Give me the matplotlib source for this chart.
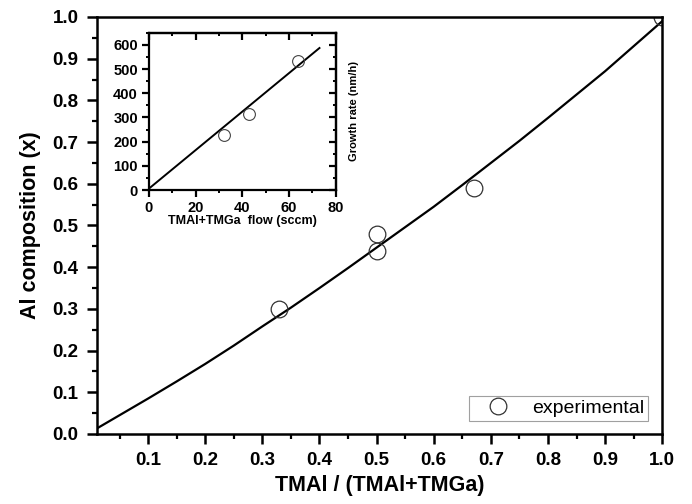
import matplotlib
matplotlib.use("Agg")
import matplotlib.pyplot as plt
from matplotlib.ticker import MultipleLocator, FixedLocator

plt.rcParams["font.family"] = ["Liberation Sans", "DejaVu Sans"]

# main panel: measured points and fitted curve
exp_x = [0.33, 0.5, 0.5, 0.67, 1.0]
exp_y = [0.30, 0.48, 0.44, 0.59, 1.0]
fit_x = [0.01, 0.05, 0.1, 0.15, 0.2, 0.25, 0.3, 0.35, 0.4, 0.45, 0.5,
         0.55, 0.6, 0.65, 0.7, 0.75, 0.8, 0.85, 0.9, 0.95, 1.0]
fit_y = [0.013, 0.045, 0.085, 0.126, 0.168, 0.212, 0.258, 0.303, 0.35,
         0.398, 0.447, 0.496, 0.545, 0.597, 0.65, 0.703, 0.758, 0.814,
         0.87, 0.93, 0.99]
x_ticks = [0.1, 0.2, 0.3, 0.4, 0.5, 0.6, 0.7, 0.8, 0.9, 1.0]
y_ticks = [0.0, 0.1, 0.2, 0.3, 0.4, 0.5, 0.6, 0.7, 0.8, 0.9, 1.0]

# inset: growth rate vs total flow
flow = [32, 43, 64]
rate = [228, 314, 532]
flow_fit = [0, 73]
rate_fit = [6, 587]
flow_ticks = [0, 20, 40, 60, 80]
rate_ticks = [0, 100, 200, 300, 400, 500, 600]

fig = plt.figure(figsize=(6.92, 5.04), dpi=100)
ax = fig.add_axes([0.1397, 0.1389, 0.8173, 0.8274])

ax.plot(fit_x, fit_y, color="black", lw=1.6)
ax.plot(exp_x, exp_y, "o", ms=12, mfc="none", mec="#333333", mew=0.9,
        label="experimental")

ax.set_xlim(0.01, 1.0)
ax.set_ylim(0.0, 1.0)
ax.xaxis.set_major_locator(FixedLocator(x_ticks))
ax.yaxis.set_major_locator(FixedLocator(y_ticks))
ax.xaxis.set_minor_locator(MultipleLocator(0.05))
ax.yaxis.set_minor_locator(MultipleLocator(0.05))
ax.set_xticklabels([f"{v:.1f}" for v in x_ticks])
ax.set_yticklabels([f"{v:.1f}" for v in y_ticks])
ax.tick_params(which="major", direction="out", length=7, width=1.8,
               labelsize=13.5, pad=6)
ax.tick_params(which="minor", direction="out", length=3.5, width=1.6)
for lab in ax.get_xticklabels() + ax.get_yticklabels():
    lab.set_fontweight("bold")
for sp in ax.spines.values():
    sp.set_linewidth(1.8)

ax.set_xlabel("TMAl / (TMAl+TMGa)", fontsize=15.5, fontweight="bold", labelpad=4)
ax.set_ylabel("Al composition (x)", fontsize=15.5, fontweight="bold", labelpad=8)

leg = ax.legend(loc="lower right", bbox_to_anchor=(0.975, 0.031),
                borderaxespad=0, fancybox=False, fontsize=14,
                handletextpad=0.45, borderpad=0.2, handlelength=2.6)
leg.get_frame().set_edgecolor("#888888")
leg.get_frame().set_linewidth(0.8)

# inset
ins = fig.add_axes([0.2153, 0.623, 0.270, 0.312])
ins.plot(flow_fit, rate_fit, color="black", lw=1.4)
ins.plot(flow, rate, "o", ms=8.5, mfc="none", mec="#444444", mew=0.8)
ins.set_xlim(0, 80)
ins.set_ylim(0, 650)
ins.xaxis.set_major_locator(FixedLocator(flow_ticks))
ins.yaxis.set_major_locator(FixedLocator(rate_ticks))
ins.xaxis.set_minor_locator(MultipleLocator(10))
ins.yaxis.set_minor_locator(MultipleLocator(50))
ins.tick_params(which="major", direction="out", length=5, width=1.6,
                labelsize=10.5, pad=3)
ins.tick_params(which="minor", direction="out", length=2.5, width=1.4)
for lab in ins.get_xticklabels() + ins.get_yticklabels():
    lab.set_fontweight("bold")
for sp in ins.spines.values():
    sp.set_linewidth(1.6)

# inward ticks on the top and right edges of the inset
top = ins.secondary_xaxis("top")
top.xaxis.set_major_locator(FixedLocator(flow_ticks))
top.xaxis.set_minor_locator(MultipleLocator(10))
top.tick_params(which="major", direction="in", length=5, width=1.6, labeltop=False)
top.tick_params(which="minor", direction="in", length=2.5, width=1.4)
top.spines["top"].set_linewidth(1.6)
right = ins.secondary_yaxis("right")
right.yaxis.set_major_locator(FixedLocator(rate_ticks))
right.yaxis.set_minor_locator(MultipleLocator(50))
right.tick_params(which="major", direction="in", length=5, width=1.6, labelright=False)
right.tick_params(which="minor", direction="in", length=2.5, width=1.4)
right.spines["right"].set_linewidth(1.6)

ins.set_xlabel("TMAl+TMGa  flow (sccm)", fontsize=9, fontweight="bold",
               labelpad=0)
right.set_ylabel("Growth rate (nm/h)", fontsize=8, fontweight="bold",
                 labelpad=6)

fig.savefig("out.png", dpi=100)
